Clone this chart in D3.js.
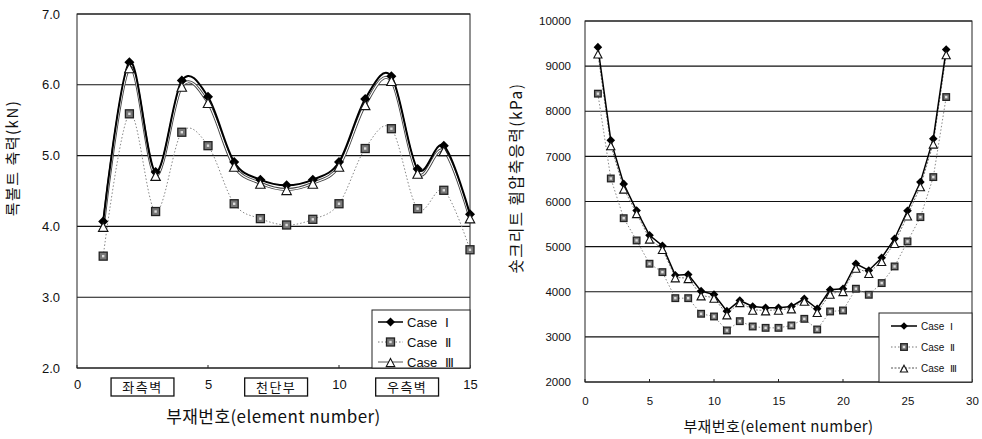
<!DOCTYPE html>
<html>
<head>
<meta charset="utf-8">
<script src="https://cdn.jsdelivr.net/npm/d3@7"></script>
<style>
  body { margin: 0; background: #fff; }
  svg text { font-family: "Liberation Sans", Arial, sans-serif; fill: #111; }
  .kr { font-family: "Noto Sans CJK KR", "Noto Sans", sans-serif; }
</style>
</head>
<body>
<div id="viz-container"></div>
<script>
let width = 982;
let height = 439;

// left chart: rock bolt axial force (kN)
let leftElements = [1, 2, 3, 4, 5, 6, 7, 8, 9, 10, 11, 12, 13, 14, 15];
let leftCase1 = [4.07, 6.32, 4.77, 6.06, 5.83, 4.91, 4.66, 4.58, 4.66, 4.91, 5.80, 6.12, 4.81, 5.14, 4.17];
let leftCase2 = [3.58, 5.59, 4.21, 5.33, 5.14, 4.32, 4.11, 4.02, 4.10, 4.32, 5.10, 5.38, 4.25, 4.51, 3.67];
let leftCase3 = [4.00, 6.24, 4.72, 5.98, 5.75, 4.85, 4.61, 4.52, 4.61, 4.85, 5.72, 6.06, 4.75, 5.07, 4.12];
let leftYTicks = [2.0, 3.0, 4.0, 5.0, 6.0, 7.0];
let leftXTicks = [0, 5, 10, 15];
let leftZones = [{label: '좌측벽', from: 1.3, to: 3.7}, {label: '천단부', from: 6.4, to: 8.8}, {label: '우측벽', from: 11.4, to: 13.8}];

// right chart: shotcrete flexural compressive stress (kPa)
let rightElements = [1, 2, 3, 4, 5, 6, 7, 8, 9, 10, 11, 12, 13, 14, 15, 16, 17, 18, 19, 20, 21, 22, 23, 24, 25, 26, 27, 28];
let rightCase1 = [9420, 7355, 6390, 5800, 5250, 5020, 4365, 4380, 4013, 3940, 3570, 3807, 3674, 3645, 3645, 3674, 3845, 3623, 4045, 4067, 4621, 4472, 4754, 5175, 5795, 6430, 7392, 9366];
let rightCase2 = [8390, 6510, 5630, 5137, 4621, 4435, 3858, 3858, 3512, 3452, 3142, 3348, 3230, 3200, 3200, 3253, 3400, 3164, 3563, 3585, 4067, 3933, 4192, 4561, 5115, 5654, 6541, 8315];
let rightCase3 = [9277, 7244, 6284, 5740, 5175, 4945, 4318, 4300, 3918, 3867, 3497, 3769, 3600, 3585, 3600, 3630, 3800, 3549, 3955, 4013, 4532, 4413, 4680, 5078, 5690, 6335, 7282, 9262];
let rightYTicks = [2000, 3000, 4000, 5000, 6000, 7000, 8000, 9000, 10000];
let rightXTicks = [0, 5, 10, 15, 20, 25, 30];

let caseNames = ['Case  Ⅰ', 'Case  Ⅱ', 'Case  Ⅲ'];

let viz = d3.select('#viz-container')
  .append('svg')
  .attr('width', width)
  .attr('height', height);

function drawMarker(g, type, x, y, s) {
  if (type == 0) {
    g.append('path')
      .attr('d', 'M' + x + ',' + (y - s) + 'L' + (x + s) + ',' + y + 'L' + x + ',' + (y + s) + 'L' + (x - s) + ',' + y + 'Z')
      .attr('fill', '#000');
  } else if (type == 1) {
    g.append('rect')
      .attr('x', x - s + 0.5).attr('y', y - s + 0.5)
      .attr('width', 2 * s - 1).attr('height', 2 * s - 1)
      .attr('fill', '#777').attr('stroke', '#222').attr('stroke-width', 1.3);
    g.append('rect')
      .attr('x', x - 1.2).attr('y', y - 1.2)
      .attr('width', 2.4).attr('height', 2.4)
      .attr('fill', '#ddd');
  } else {
    g.append('path')
      .attr('d', 'M' + x + ',' + (y - s) + 'L' + (x + s * 0.95) + ',' + (y + s * 0.8) + 'L' + (x - s * 0.95) + ',' + (y + s * 0.8) + 'Z')
      .attr('fill', '#fff').attr('stroke', '#111').attr('stroke-width', 1.1);
  }
}

function drawChart(o) {
  let g = viz.append('g');
  let x = d3.scaleLinear().domain(o.xDomain).range([o.left, o.right]);
  let y = d3.scaleLinear().domain(o.yDomain).range([o.bottom, o.top]);

  // gridlines
  g.selectAll('.grid').data(o.yTicks).enter()
    .append('line')
    .attr('x1', o.left).attr('x2', o.right)
    .attr('y1', d => y(d)).attr('y2', d => y(d))
    .attr('stroke', '#111').attr('stroke-width', 1.1);

  // frame
  g.append('rect')
    .attr('x', o.left).attr('y', o.top)
    .attr('width', o.right - o.left).attr('height', o.bottom - o.top)
    .attr('fill', 'none').attr('stroke', '#222').attr('stroke-width', 1);

  // y axis labels
  let yAxis = d3.axisLeft(y).tickValues(o.yTicks).tickFormat(o.yFormat).tickSize(0).tickPadding(o.yPad);
  let ya = g.append('g').attr('transform', 'translate(' + o.left + ',0)').call(yAxis);
  ya.select('.domain').remove();
  ya.selectAll('text').attr('font-size', o.tickFont).attr('font-family', '"Liberation Sans", Arial, sans-serif').attr('fill', '#111');

  // x axis labels
  let xAxis = d3.axisBottom(x).tickValues(o.xTicks).tickFormat(d3.format('d')).tickSize(0).tickPadding(o.xPad);
  let xa = g.append('g').attr('transform', 'translate(0,' + o.bottom + ')').call(xAxis);
  xa.select('.domain').remove();
  xa.selectAll('text').attr('font-size', o.tickFont).attr('font-family', '"Liberation Sans", Arial, sans-serif').attr('fill', '#111');

  // small tick marks on bottom axis
  g.selectAll('.xtick').data(o.xTicks).enter()
    .append('line')
    .attr('x1', d => x(d)).attr('x2', d => x(d))
    .attr('y1', o.bottom).attr('y2', o.bottom - 3)
    .attr('stroke', '#222');

  let line = d3.line()
    .x((d, i) => x(o.xs[i]))
    .y(d => y(d))
    .curve(o.curve);

  // Case II dotted
  g.append('path').datum(o.series[1])
    .attr('d', line).attr('fill', 'none')
    .attr('stroke', '#888').attr('stroke-width', 1).attr('stroke-dasharray', '1.5,2');

  // Case III
  if (o.hollow) {
    g.append('path').datum(o.series[2])
      .attr('d', line).attr('fill', 'none')
      .attr('stroke', '#444').attr('stroke-width', 3);
    g.append('path').datum(o.series[2])
      .attr('d', line).attr('fill', 'none')
      .attr('stroke', '#fff').attr('stroke-width', 1.2);
  } else {
    g.append('path').datum(o.series[2])
      .attr('d', line).attr('fill', 'none')
      .attr('stroke', '#777').attr('stroke-width', 1).attr('stroke-dasharray', '2,1.5');
  }

  // Case I solid
  g.append('path').datum(o.series[0])
    .attr('d', line).attr('fill', 'none')
    .attr('stroke', '#000').attr('stroke-width', o.mainWidth);

  // markers
  let mg = g.append('g');
  o.series[1].forEach((d, i) => drawMarker(mg, 1, x(o.xs[i]), y(d), o.msize));
  o.series[0].forEach((d, i) => drawMarker(mg, 0, x(o.xs[i]), y(d), o.msize + 0.5));
  o.series[2].forEach((d, i) => drawMarker(mg, 2, x(o.xs[i]), y(d) + 1, o.msize + 0.5));

  // y title
  g.append('text')
    .attr('class', 'kr')
    .attr('transform', 'translate(' + o.yTitleX + ',' + o.yTitleY + ') rotate(-90)')
    .attr('text-anchor', 'middle')
    .attr('font-size', o.titleFont)
    .attr('letter-spacing', o.yTitleSpacing)
    .text(o.yTitle);

  // x title
  g.append('text')
    .attr('class', 'kr')
    .attr('x', (o.left + o.right) / 2).attr('y', o.xTitleY)
    .attr('text-anchor', 'middle')
    .attr('font-size', o.xTitleFont)
    .attr('letter-spacing', 0.4)
    .text('부재번호(element number)');

  // legend
  let lg = g.append('g');
  lg.append('rect')
    .attr('x', o.legend.x).attr('y', o.legend.y)
    .attr('width', o.right - o.legend.x).attr('height', o.bottom - o.legend.y)
    .attr('fill', '#fff').attr('stroke', '#222').attr('stroke-width', 1);
  caseNames.forEach((name, i) => {
    let ly = o.legend.y + o.legend.first + i * o.legend.step;
    let lx1 = o.legend.x + o.legend.lineL;
    let lx2 = lx1 + o.legend.lineW;
    let ln = lg.append('line')
      .attr('x1', lx1).attr('x2', lx2).attr('y1', ly).attr('y2', ly);
    if (i == 0) ln.attr('stroke', '#000').attr('stroke-width', 1.5);
    else if (i == 1) ln.attr('stroke', '#777').attr('stroke-dasharray', '1.5,2');
    else ln.attr('stroke', '#555').attr('stroke-width', 1).attr('stroke-dasharray', o.hollow ? null : '2,1.5');
    drawMarker(lg, i, (lx1 + lx2) / 2, ly + (i == 2 ? 1 : 0), o.msize);
    lg.append('text')
      .attr('x', lx2 + 4).attr('y', ly)
      .attr('dy', '0.35em')
      .attr('font-size', o.legend.font)
      .attr('xml:space', 'preserve')
      .style('white-space', 'pre')
      .text(name);
  });

  return {x: x, y: y, g: g};
}

let leftChart = drawChart({
  left: 77, right: 470, top: 14, bottom: 368,
  xDomain: [0, 15], yDomain: [2, 7],
  xs: leftElements, series: [leftCase1, leftCase2, leftCase3],
  yTicks: leftYTicks, xTicks: leftXTicks,
  yFormat: d3.format('.1f'),
  curve: d3.curveCardinal.tension(0),
  hollow: true, mainWidth: 2, msize: 4.5,
  tickFont: 13, titleFont: 15, xTitleFont: 17, yPad: 17, xPad: 12,
  yTitle: '록볼트 축력(kN)', yTitleSpacing: 1.5, yTitleX: 18, yTitleY: 158, xTitleY: 423,
  legend: {x: 372, y: 310, first: 12, step: 20, lineL: 6, lineW: 25, font: 13}
});

// zone label boxes under the left x axis
leftChart.g.selectAll('.zone').data(leftZones).enter()
  .append('rect')
  .attr('x', d => leftChart.x(d.from))
  .attr('y', 378)
  .attr('width', d => leftChart.x(d.to) - leftChart.x(d.from))
  .attr('height', 18)
  .attr('fill', '#fff').attr('stroke', '#111').attr('stroke-width', 1.3);
leftChart.g.selectAll('.zoneText').data(leftZones).enter()
  .append('text')
  .attr('class', 'kr')
  .attr('x', d => (leftChart.x(d.from) + leftChart.x(d.to)) / 2)
  .attr('y', 387)
  .attr('dy', '0.35em')
  .attr('text-anchor', 'middle')
  .attr('font-size', 13)
  .attr('letter-spacing', 1.5)
  .text(d => d.label);

let rightChart = drawChart({
  left: 585, right: 972, top: 21, bottom: 382,
  xDomain: [0, 30], yDomain: [2000, 10000],
  xs: rightElements, series: [rightCase1, rightCase2, rightCase3],
  yTicks: rightYTicks, xTicks: rightXTicks,
  yFormat: d3.format('d'),
  curve: d3.curveLinear,
  hollow: false, mainWidth: 1.5, msize: 3.8,
  tickFont: 11.5, titleFont: 15.5, xTitleFont: 15, yPad: 14, xPad: 15,
  yTitle: '숏크리트 휨압축응력(kPa)', yTitleSpacing: 1.5, yTitleX: 522, yTitleY: 178, xTitleY: 432,
  legend: {x: 879, y: 313, first: 13, step: 21, lineL: 12, lineW: 26, font: 10}
});
</script>
</body>
</html>
